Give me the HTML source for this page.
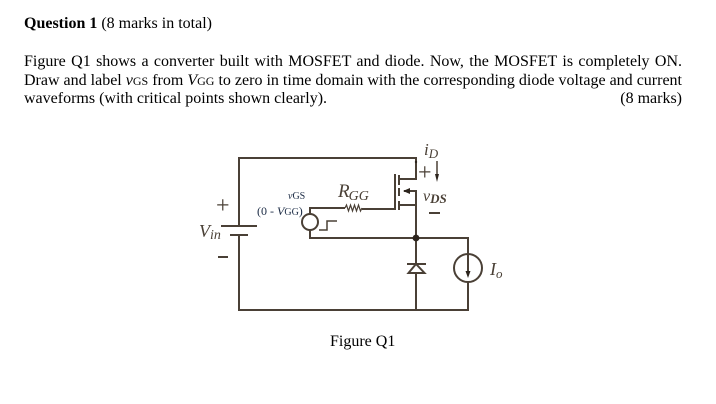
<!DOCTYPE html>
<html>
<head>
<meta charset="utf-8">
<style>
html,body{margin:0;padding:0;background:#fff;width:716px;height:404px;overflow:hidden}
body{position:relative;font-family:"Liberation Serif",serif;color:#000;font-size:16px}
.l{position:absolute;left:24px;width:658px;line-height:18px;white-space:nowrap;filter:blur(0.2px)}
.j{text-align:justify;text-align-last:justify;white-space:normal}
.s{font-size:12px}
svg{position:absolute;left:0;top:0}
</style>
</head>
<body>
<div class="l" style="top:15px"><b>Question 1</b> (8 marks in total)</div>
<div class="l j" style="top:53px">Figure Q1 shows a converter built with MOSFET and diode. Now, the MOSFET is completely ON.</div>
<div class="l j" style="top:72px">Draw and label <i>v</i><span class="s">GS</span> from <i>V</i><span class="s">GG</span> to zero in time domain with the corresponding diode voltage and current</div>
<div class="l" style="top:90px">waveforms (with critical points shown clearly).</div>
<div class="l" style="top:90px;text-align:right">(8 marks)</div>
<svg width="716" height="404" viewBox="0 0 716 404" font-family="Liberation Serif, serif">
<g fill="none" stroke="#4a4036" stroke-width="2" style="filter:blur(0.3px)">
<path d="M239 226V158H416V179H399M399 205H416V191H404M416 205V264M416 273V310H239V235"/>
<path d="M221 226H257M230 235H248"/>
<path d="M395 174V209H362M399 175V185M399 188V196M399 201V210"/>
<path d="M345 208H310V214M310 230V238H468V254M468 282V310H416"/>
<circle cx="310" cy="222" r="8"/>
<path d="M319 230H327V221H337" stroke-width="1.5"/>
<path d="M345 208l1.500 -3 2 6 2 -6 2 6 2 -6 2 6 2 -6 2 6 1.500 -3" stroke-width="1.200"/>
<path d="M407 264H426M416 264L408.500 273H424.500Z"/>
<circle cx="468" cy="268" r="14"/>
<path d="M468 254V274"/>
<path d="M437 161V176" stroke-width="1.500"/>
<path d="M218 257H228M429 213H440"/>
</g>
<circle cx="416" cy="238" r="3.400" fill="#2c241d"/>
<circle cx="416" cy="162" r="1.200" fill="#2c241d"/>
<path d="M403 191l7 -3v6z" fill="#2c241d"/>
<path d="M465.500 271h5l-2.500 7z" fill="#2c241d"/>
<path d="M435 174h4l-2 8z" fill="#2c241d"/>
<g fill="#4a4036" font-style="italic" style="filter:blur(0.3px)">
<text x="199" y="237" font-size="18">V<tspan font-size="14" dy="2">in</tspan></text>
<text x="338" y="197" font-size="19">R<tspan font-size="14" dx="-1" dy="3">GG</tspan></text>
<text x="424" y="155" font-size="17">i<tspan font-size="13" dy="3">D</tspan></text>
<text x="423" y="201" font-size="16">v<tspan font-size="13" dy="2" font-weight="bold">DS</tspan></text>
<text x="490" y="275" font-size="18">I<tspan font-size="13" dy="3">o</tspan></text>
</g>
<g fill="#4a4036" font-size="24" style="filter:blur(0.3px)">
<text x="216" y="213">+</text>
<text x="418" y="180">+</text>
</g>
<g fill="#1a2a44">
<text x="288" y="199" font-size="10"><tspan font-style="italic">v</tspan>GS</text>
<text x="257" y="215" font-size="12">(0 - <tspan font-style="italic">V</tspan><tspan font-size="10">GG</tspan>)</text>
</g>
<text x="330" y="346" font-size="16" fill="#000">Figure Q1</text>
</svg>
</body>
</html>
